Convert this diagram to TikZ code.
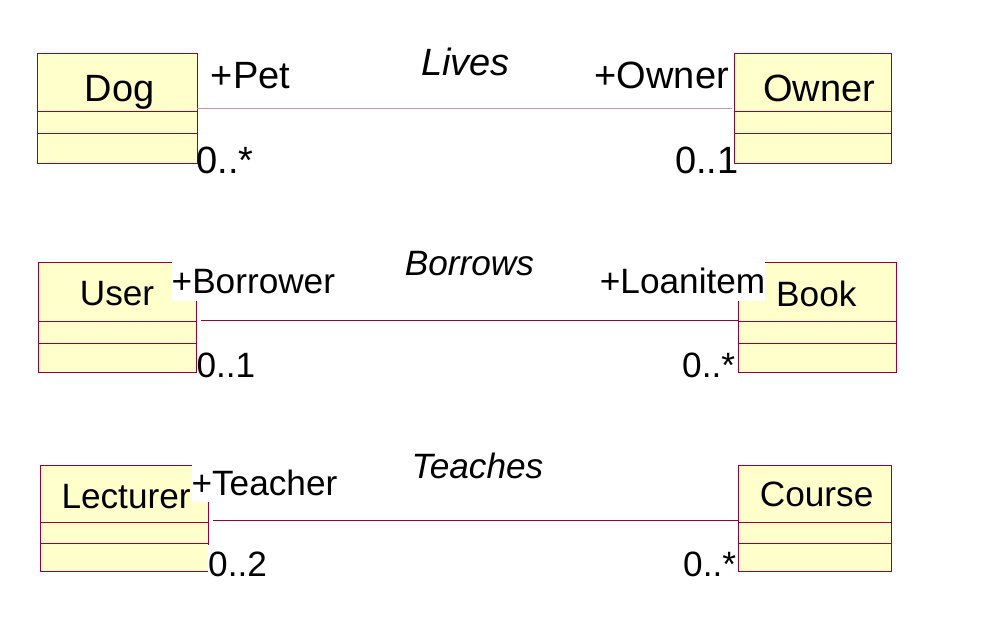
\documentclass[tikz,border=0pt]{standalone}
\usepackage{fontspec}
\setmainfont{Liberation Sans}
\definecolor{umlfill}{RGB}{255,255,204}
\definecolor{umlline}{RGB}{153,0,51}
\definecolor{umllight}{RGB}{200,150,160}
\begin{document}
\begin{tikzpicture}[x=1pt,y=-1pt,
  classbox/.style={draw=umlline,fill=umlfill,line width=1pt,inner sep=0pt,outer sep=0pt,minimum width=#1,minimum height=110pt,anchor=north west},
  classbox/.default=160pt,
  divider/.style={draw=umlline,line width=1pt},
  assoc/.style={draw=umlline,line width=1pt},
  cname/.style={anchor=base west,inner sep=0pt,font=\fontsize{35.2}{40}\selectfont},
  lbl/.style={anchor=base west,inner sep=0pt,fill=white,text height=31.8pt,text depth=7.4pt,font=\fontsize{35.2}{40}\selectfont},
  toplbl/.style={anchor=base west,inner sep=0pt,font=\fontsize{38}{44}\selectfont},
  aname/.style={anchor=base west,inner sep=0pt,font=\fontsize{35.2}{40}\selectfont\itshape},
  biganame/.style={anchor=base west,inner sep=0pt,font=\fontsize{38}{44}\selectfont\itshape}]
\useasboundingbox (0,0) rectangle (981,643);
% classes
\node[classbox=160pt] (dog) at (37.3,53.3) {};
\node[classbox=157pt] (owner) at (734.3,53.3) {};
\node[classbox=158pt,minimum height=110pt] (user) at (38.3,262.3) {};
\node[classbox=157.3pt,minimum height=110pt] (book) at (738.7,262.3) {};
\node[classbox=167.6pt,minimum height=105.7pt] (lect) at (40.7,465.3) {};
\node[classbox=152.7pt,minimum height=106pt] (course) at (738.3,465.3) {};
% dividers
\foreach \n/\a/\b in {dog/57.7/80, owner/57.7/80, user/58.7/81, book/58.7/81, lect/57/78, course/56.7/78}{
  \draw[divider] ([yshift=-\a pt]\n.north west) -- ([yshift=-\a pt]\n.north east);
  \draw[divider] ([yshift=-\b pt]\n.north west) -- ([yshift=-\b pt]\n.north east);
}
% class names
\node[toplbl] (dogn) at (84.7,101.7) {Dog};
\node[toplbl] (ownern) at (763,101.7) {Owner};
\node[cname] (usern) at (79.7,305.7) {User};
\node[cname] (bookn) at (776,306.7) {Book};
\node[cname] (lectn) at (61.3,508.3) {Lecturer};
\node[cname] (coursen) at (759.7,506.7) {Course};
% association endpoints
\coordinate (a1s) at (197.3,108.8);
\coordinate (a1e) at (731.7,108.8);
\coordinate (a2s) at (201,320.3);
\coordinate (a2e) at (738.7,320.3);
\coordinate (a3s) at (213.3,520.3);
\coordinate (a3e) at (738.3,520.3);
\draw[assoc,draw=umllight] (a1s) -- (a1e);
\draw[assoc] (a2s) -- (a2e);
\draw[assoc] (a3s) -- (a3e);
% association names
\node[biganame] (lives) at (421,75) {Lives};
\node[aname] (borrows) at (404.7,275) {Borrows};
\node[aname] (teaches) at (411.3,478.3) {Teaches};
% role names and multiplicities
\node[toplbl] (pet) at (210.7,88.3) {+Pet};
\node[toplbl] (ownr) at (594.5,88.3) {+Owner};
\node[toplbl] (m1) at (196.5,173.3) {0..*};
\node[toplbl] (m2) at (675,173.3) {0..1};
\node[lbl] (borrower) at (171.5,293.3) {+Borrower};
\node[lbl] (loan) at (599.7,293.3) {+Loanitem};
\node[lbl] (m3) at (196.3,377.3) {0..1};
\node[lbl] (m4) at (682,377.3) {0..*};
\node[lbl] (teacher) at (191.3,495) {+Teacher};
\node[lbl] (m5) at (208,576.7) {0..2};
\node[lbl] (m6) at (683,576) {0..*};
\end{tikzpicture}
\end{document}
